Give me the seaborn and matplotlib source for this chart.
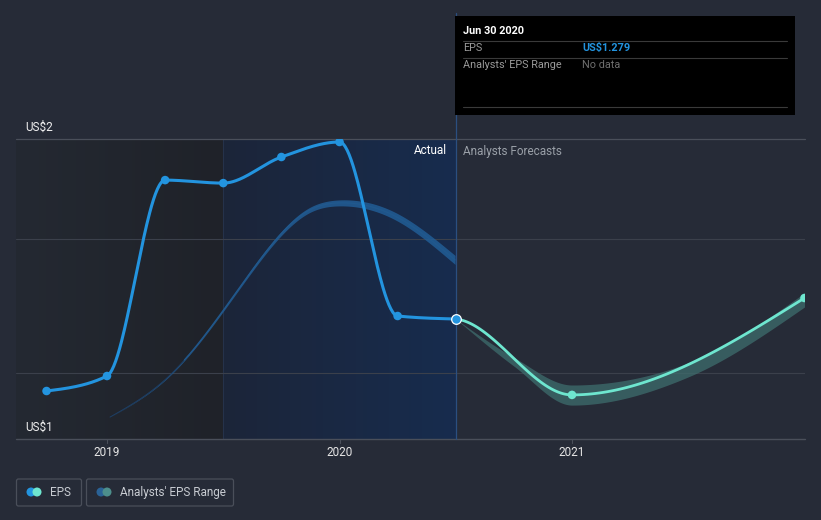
import numpy as np
import pandas as pd
import matplotlib
matplotlib.use("Agg")
import matplotlib.pyplot as plt
import seaborn as sns
from matplotlib.colors import LinearSegmentedColormap
from matplotlib.patches import Rectangle, FancyBboxPatch

# ---------------- data ----------------
eps_years = [2018.74, 2019.0, 2019.25, 2019.5, 2019.75, 2020.0, 2020.25, 2020.5]
eps_values = [1.16, 1.21, 1.863, 1.853, 1.94, 1.99, 1.41, 1.40]

fc_years = [2020.5, 2021.0, 2022.0]
fc_values = [1.40, 1.147, 1.47]

band_years = [2020.5, 2020.75, 2021.0, 2021.5, 2022.0]
band_low = [1.40, 1.243, 1.113, 1.207, 1.44]
band_high = [1.40, 1.272, 1.18, 1.254, 1.487]

past_years = [2019.013, 2019.271, 2019.572, 2019.871, 2020.0, 2020.247, 2020.497]
past_mid = [1.073, 1.213, 1.507, 1.763, 1.787, 1.74, 1.597]
past_half = [0.0, 0.0018, 0.0048, 0.0085, 0.0100, 0.0125, 0.0150]

x_ticks = [2019, 2020, 2021]
x_tick_labels = ["2019", "2020", "2021"]
y_labels = ["US$2", "US$1"]
grid_values = [1.667, 1.221]

# ---------------- helpers ----------------
def monotone(x, y, n=60):
    x = np.asarray(x, float); y = np.asarray(y, float)
    h = np.diff(x); d = np.diff(y) / h
    m = np.zeros(len(x))
    for k in range(1, len(x) - 1):
        s0, s1 = d[k - 1], d[k]
        p = (s0 * h[k] + s1 * h[k - 1]) / (h[k - 1] + h[k])
        m[k] = (np.sign(s0) + np.sign(s1)) * min(abs(s0), abs(s1), 0.5 * abs(p))
    m[0] = (3 * d[0] - m[1]) / 2 if len(x) > 2 else d[0]
    m[-1] = (3 * d[-1] - m[-2]) / 2 if len(x) > 2 else d[-1]
    xs, ys = [], []
    for k in range(len(x) - 1):
        t = np.linspace(0, 1, n, endpoint=(k == len(x) - 2))
        h00 = 2 * t**3 - 3 * t**2 + 1
        h10 = t**3 - 2 * t**2 + t
        h01 = -2 * t**3 + 3 * t**2
        h11 = t**3 - t**2
        xs.append(x[k] + t * h[k])
        ys.append(h00 * y[k] + h10 * h[k] * m[k] + h01 * y[k + 1] + h11 * h[k] * m[k + 1])
    return np.concatenate(xs), np.concatenate(ys)


def natural_spline(x, y, n=400):
    x = np.asarray(x, float); y = np.asarray(y, float)
    N = len(x); h = np.diff(x)
    A = np.zeros((N, N)); b = np.zeros(N)
    A[0, 0] = 1; A[-1, -1] = 1
    for i in range(1, N - 1):
        A[i, i - 1] = h[i - 1]; A[i, i] = 2 * (h[i - 1] + h[i]); A[i, i + 1] = h[i]
        b[i] = 6 * ((y[i + 1] - y[i]) / h[i] - (y[i] - y[i - 1]) / h[i - 1])
    M = np.linalg.solve(A, b)
    xs = np.linspace(x[0], x[-1], n)
    idx = np.clip(np.searchsorted(x, xs) - 1, 0, N - 2)
    xi, xi1, hi = x[idx], x[idx + 1], h[idx]
    ys = (M[idx] * (xi1 - xs) ** 3 / (6 * hi) + M[idx + 1] * (xs - xi) ** 3 / (6 * hi)
          + (y[idx] / hi - M[idx] * hi / 6) * (xi1 - xs)
          + (y[idx + 1] / hi - M[idx + 1] * hi / 6) * (xs - xi))
    return xs, ys


W, H = 821, 520
BG = "#262b37"
EPS_C = "#2394df"
FC_C = "#6ee6cf"

sns.set_theme(style="dark")
plt.rcParams["font.family"] = ["Roboto", "DejaVu Sans"]

fig = plt.figure(figsize=(W / 100, H / 100), dpi=100)
fig.patch.set_facecolor(BG)

x0, x1 = 16, 805
ytop, ybot = 139, 439
ax = fig.add_axes([x0 / W, 1 - ybot / H, (x1 - x0) / W, (ybot - ytop) / H])
ax.set_facecolor(BG)
px_per_year = 232.5
xmin = 2019 + (x0 - 107) / px_per_year
xmax = 2019 + (x1 - 107) / px_per_year

# shaded regions
grad = np.linspace(0, 1, 256).reshape(1, -1)
cmap_dark = LinearSegmentedColormap.from_list("drk", ["#242932", "#1f2229"])
ax.imshow(grad, extent=[xmin, 2019.5, 1, 2], cmap=cmap_dark, aspect="auto", zorder=0.5)
cmap = LinearSegmentedColormap.from_list("blu", ["#1c2539", "#172c4e"])
ax.imshow(grad, extent=[2019.5, 2020.5, 1, 2], cmap=cmap, aspect="auto", zorder=0.5)
ax.axvline(2019.5, color="#25324a", lw=0.8, zorder=0.8)

# grid lines
for g in grid_values:
    ax.axhline(g, color="#3b404b", lw=0.8, zorder=1)
ax.axhline(2.0, color="#4a4f5a", lw=0.9, zorder=1, clip_on=False)
ax.axhline(1.0, color="#4a4f5a", lw=1.0, zorder=1, clip_on=False)

# now line
ax.plot([2020.5, 2020.5], [1, 2.42], color="#2b4f80", lw=0.9, zorder=2, clip_on=False)

# past analyst range band
px_, mid_ = natural_spline(past_years, past_mid)
half_ = np.interp(px_, past_years, past_half)
ax.fill_between(px_, mid_ - half_, mid_ + half_, color="#22609a", alpha=0.8, lw=0, zorder=2)
sel1 = px_ < 2019.35
sns.lineplot(x=px_[sel1], y=mid_[sel1], ax=ax, color="#1d3f66",
             lw=0.7, sort=False, zorder=2)
sel2 = px_ >= 2019.33
sns.lineplot(x=px_[sel2], y=mid_[sel2], ax=ax, color="#21598e",
             lw=0.9, sort=False, zorder=2)

# forecast band
fx, flo = monotone(band_years, band_low)
_, fhi = monotone(band_years, band_high)
ax.fill_between(fx, flo, fhi, color="#3e6d6d", alpha=0.75, lw=0, zorder=3)

# forecast line (continues the curve from the previous actual point)
fxx, fyy = monotone([eps_years[-2]] + fc_years, [eps_values[-2]] + fc_values)
keep = fxx >= fc_years[0]
sns.lineplot(x=fxx[keep], y=fyy[keep], ax=ax, color=FC_C, lw=2.0, sort=False, zorder=4)
sns.scatterplot(x=fc_years[1:], y=fc_values[1:], ax=ax, color=FC_C, s=38,
                edgecolor="none", zorder=5, clip_on=True)

# EPS line
ex, ey = monotone(eps_years, eps_values)
sns.lineplot(x=ex, y=ey, ax=ax, color=EPS_C, lw=2.2, sort=False, zorder=6)
sns.scatterplot(x=eps_years[:-1], y=eps_values[:-1], ax=ax, color=EPS_C, s=38,
                edgecolor="none", zorder=7)
ax.scatter([eps_years[-1]], [eps_values[-1]], s=48, color=EPS_C, edgecolor="white",
           linewidth=0.9, zorder=8)

ax.set_xlim(xmin, xmax)
ax.set_ylim(1, 2)
ax.set_xticks([])
ax.set_yticks([])
ax.set_xlabel("")
ax.set_ylabel("")
for s in ax.spines.values():
    s.set_visible(False)

# ---------------- overlay in pixel coordinates ----------------
ov = fig.add_axes([0, 0, 1, 1], zorder=10)
ov.set_xlim(0, W); ov.set_ylim(H, 0)
ov.axis("off")
ov.patch.set_visible(False)

for t, lab in zip(x_ticks, x_tick_labels):
    xp = 107 + (t - 2019) * px_per_year
    ov.plot([xp, xp], [439, 443], color="#4a4f5a", lw=0.8)
    ov.text(xp, 452, lab, color="#e6e6e6", fontsize=8.5, ha="center", va="center")

ov.text(25, 127, y_labels[0], color="#f0f0f0", fontsize=8.5, ha="left", va="center")
ov.text(25, 427, y_labels[1], color="#f0f0f0", fontsize=8.5, ha="left", va="center")

ov.text(447, 151, "Actual", color="#ffffff", fontsize=8.5, ha="right", va="center")
ov.text(463, 151, "Analysts Forecasts", color="#9aa0a8", fontsize=8.5, ha="left", va="center")

# tooltip
ov.add_patch(Rectangle((455, 16), 340, 99, facecolor="black", edgecolor="none"))
ov.text(463, 31, "Jun 30 2020", color="white", fontsize=7.8, fontweight="bold", va="center")
for yl in [40.5, 57.5, 106.5]:
    ov.plot([463, 787], [yl, yl], color="#3a3a3a", lw=0.8)
ov.text(463, 48, "EPS", color="#9a9a9a", fontsize=7.8, va="center")
ov.text(582, 48, "US$1.279", color=EPS_C, fontsize=7.8, fontweight="bold", va="center")
ov.text(463, 65, "Analysts' EPS Range", color="#9a9a9a", fontsize=7.8, va="center")
ov.text(582, 65, "No data", color="#6f6f6f", fontsize=7.8, va="center")

# legend
for (bx, bw) in [(16.5, 65), (86.5, 147)]:
    ov.add_patch(FancyBboxPatch((bx, 479), bw, 27, boxstyle="round,pad=0,rounding_size=2",
                                facecolor="none", edgecolor="#4a4f5a", lw=0.9))
ov.scatter([31, 37], [492, 492], s=[42, 42], color=[EPS_C, FC_C], edgecolor="none")
ov.scatter([101, 107], [492, 492], s=[42, 42], color=["#2a6296", "#4d8f8c"], edgecolor="none")
ov.text(50, 492.5, "EPS", color="#c8ccd2", fontsize=8.5, va="center")
ov.text(120, 492.5, "Analysts' EPS Range", color="#c8ccd2", fontsize=8.5, va="center")

fig.savefig("out.png", dpi=100, facecolor=BG)
